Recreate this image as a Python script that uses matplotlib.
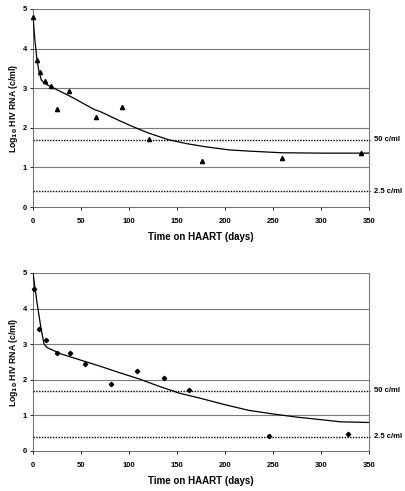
import matplotlib.pyplot as plt
import numpy as np

# ── Data ─────────────────────────────────────────────────────────────────────
# Patient 1 (triangles)
days_1 = [0, 4, 7, 12, 19, 25, 37, 66, 93, 121, 176, 259, 342]
rna_1 = [4.80, 3.72, 3.40, 3.18, 3.05, 2.47, 2.93, 2.28, 2.53, 1.71, 1.17, 1.25, 1.37]
fit_days_1 = [0, 2, 4, 6, 8.6, 12, 20, 40, 64, 70, 90, 104, 120, 141, 160, 180,
              205, 226, 259, 300, 350]
fit_rna_1 = [4.80, 4.20, 3.75, 3.45, 3.21, 3.12, 3.02, 2.78, 2.46, 2.41, 2.18,
             2.03, 1.87, 1.70, 1.60, 1.52, 1.44, 1.41, 1.37, 1.36, 1.36]

# Patient 2 (diamonds)
days_2 = [1.4, 6, 14, 25, 39, 54, 81, 108, 136, 163, 246, 328]
rna_2 = [4.56, 3.43, 3.11, 2.74, 2.75, 2.44, 1.88, 2.25, 2.04, 1.70, 0.41, 0.49]
fit_days_2 = [0, 4, 8, 11.5, 15, 30, 50, 70, 90, 111, 130, 153, 173, 200, 225,
              250, 275, 300, 320, 350]
fit_rna_2 = [5.00, 4.20, 3.50, 3.00, 2.90, 2.72, 2.55, 2.38, 2.20, 2.02, 1.83,
             1.62, 1.49, 1.30, 1.14, 1.04, 0.95, 0.88, 0.82, 0.80]

# detection limits
limit_values = [np.log10(50), np.log10(2.5)]
limit_labels = ['50 c/ml', '2.5 c/ml']

plt.rcParams['font.family'] = ['Liberation Sans', 'DejaVu Sans']
plt.rcParams['font.weight'] = 'bold'

fig = plt.figure(figsize=(4.06, 4.91), dpi=100)
ax_top = fig.add_axes([0.0813, 0.5784, 0.8276, 0.4033])
ax_bot = fig.add_axes([0.0813, 0.0815, 0.8276, 0.3625])


def draw_panel(ax, days, rna, fit_days, fit_rna, marker, msize):
    for yv in [1, 2, 3, 4, 5]:
        ax.axhline(yv, color='#7a7a7a', linewidth=0.8, zorder=1)
    for yv, lab in zip(limit_values, limit_labels):
        ax.plot([0, 351], [yv, yv], color='black', linestyle=(0, (1, 1)),
                linewidth=1.0, zorder=2, clip_on=False)
        ax.text(355, yv, lab, fontsize=5.5, fontweight='bold',
                va='center', ha='left')
    ax.plot(fit_days, fit_rna, color='black', linewidth=0.9, zorder=3)
    ax.plot(days, rna, linestyle='none', marker=marker, markersize=msize,
            color='black', zorder=4, clip_on=False)
    ax.set_xlim(0, 350)
    ax.set_ylim(0, 5)
    ax.set_xticks(np.arange(0, 351, 50))
    ax.set_yticks(np.arange(0, 6, 1))
    ax.tick_params(labelsize=5.5, length=2.5, width=0.6, direction='out', pad=2)
    ax.tick_params(axis='x', pad=5.5)
    for lab in ax.get_xticklabels() + ax.get_yticklabels():
        lab.set_fontweight('bold')
    ax.spines['top'].set_visible(False)
    ax.spines['right'].set_color('#7a7a7a')
    ax.spines['right'].set_linewidth(0.8)
    ax.spines['left'].set_color('#555555')
    ax.spines['left'].set_linewidth(0.6)
    ax.spines['bottom'].set_color('#555555')
    ax.spines['bottom'].set_linewidth(0.6)
    ax.set_xlabel('Time on HAART (days)', fontsize=7, fontweight='bold', labelpad=5)
    ax.set_ylabel(r'Log$_{\mathbf{10}}$ HIV RNA (c/ml)', fontsize=6.2,
                  fontweight='bold', labelpad=2)


draw_panel(ax_top, days_1, rna_1, fit_days_1, fit_rna_1, '^', 3)
draw_panel(ax_bot, days_2, rna_2, fit_days_2, fit_rna_2, 'D', 2.2)

fig.savefig('out.png', dpi=100)
